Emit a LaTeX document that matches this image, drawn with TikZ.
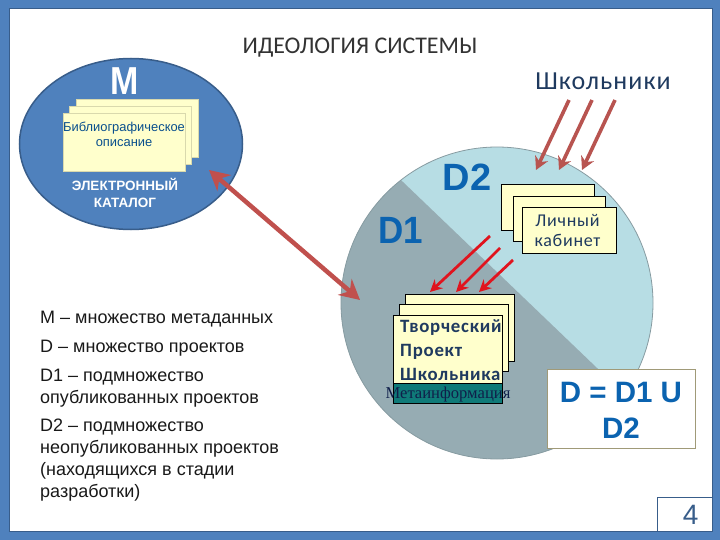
\documentclass[tikz,border=0pt]{standalone}
\usepackage{fontspec}
\setmainfont{Liberation Sans}
\newfontfamily\calib{Carlito}
\newfontfamily\calibsp{Carlito}[LetterSpace=4]
\newfontfamily\tms{Liberation Serif}
\usetikzlibrary{arrows.meta,shapes.geometric}
\definecolor{frameblue}{HTML}{4F81BD}
\definecolor{framedark}{HTML}{385D8A}
\definecolor{paleyellow}{HTML}{FFFFCC}
\definecolor{dlight}{HTML}{B7DDE4}
\definecolor{ddark}{HTML}{96ACB3}
\definecolor{headblue}{HTML}{0B63B0}
\definecolor{arrowred}{HTML}{C0504D}
\definecolor{arrowbrown}{HTML}{B85450}
\definecolor{purered}{HTML}{E0141E}
\definecolor{teal1}{HTML}{0F7A78}
\definecolor{navy1}{HTML}{0F1F4A}
\definecolor{textdark}{HTML}{1F3A5F}
\definecolor{olive1}{HTML}{A09A78}
\tikzset{
  pagecard/.style={draw=black,line width=0.8pt,fill=paleyellow,anchor=north west,inner sep=0pt},
  softcard/.style={draw=paleyellow!85!black,line width=0.5pt,fill=paleyellow,anchor=north west,inner sep=0pt},
  bodytext/.style={anchor=north west,inner sep=0pt,align=left,font=\fontsize{18}{22}\selectfont,text=black!90},
  bigarrow/.style={arrowred,line width=4.5pt,{Stealth[length=20pt,width=21pt]}-{Stealth[length=20pt,width=21pt]}},
  brownarrow/.style={arrowbrown,line width=3.6pt,-{Stealth[length=13pt,width=14pt]}},
  redarrow/.style={purered,line width=2.8pt,-{Stealth[length=12pt,width=12pt]}},
  dlabel/.style={font=\fontsize{38}{38}\selectfont\bfseries,text=headblue,inner sep=0pt}
}
\begin{document}
\begin{tikzpicture}[x=1pt,y=-1pt]
\useasboundingbox (0,0) rectangle (720,540);
\fill[white] (0,0) rectangle (720,540);
% frame
\fill[frameblue,even odd rule] (0,0) rectangle (720,540) (9,9) rectangle (712,531);
\draw[framedark,line width=1pt] (9,9) rectangle (712,531);
% catalogue ellipse
\node[ellipse,draw=framedark,line width=1.5pt,fill=frameblue,minimum width=223pt,minimum height=171pt,inner sep=0pt] (cat) at (131,144) {};
\node[font=\fontsize{39}{39}\selectfont\bfseries,text=white,inner sep=0pt,xscale=0.87] (mlabel) at (124.5,81) {M};
\node[softcard,minimum width=122pt,minimum height=58pt] (bib3) at (76,99) {};
\node[softcard,minimum width=122pt,minimum height=58pt] (bib2) at (69,106) {};
\node[softcard,minimum width=122pt,minimum height=58pt] (bib1) at (63,113) {};
\node[anchor=north,inner sep=0pt,align=center,text=headblue!80!black,font=\fontsize{12.9}{15}\selectfont] (bibtext) at (124,122) {Библиографическое\\описание};
\node[inner sep=0pt,align=center,text=white,font=\fontsize{13.5}{17}\selectfont\bfseries] (ectext) at (125,192.5) {ЭЛЕКТРОННЫЙ\\КАТАЛОГ};
% title
\node[font=\calib\fontsize{23.9}{24}\selectfont,text=black!80,inner sep=0pt] (title) at (360,48) {ИДЕОЛОГИЯ СИСТЕМЫ};
\node[font=\calibsp\fontsize{26}{26}\selectfont,text=textdark,inner sep=0pt] (pupils) at (603,81) {Школьники};
% disk
\coordinate (dc) at (497,303);
\fill[dlight] (dc) circle (156);
\begin{scope}
\clip (dc) circle (156);
\fill[ddark] (330,112) -- (403,182) -- (597,368) -- (720,486) -- (300,486) -- cycle;
\end{scope}
\draw[ddark!90!black,line width=0.8pt] (dc) circle (156);
\node[dlabel] (d2) at (467,177) {D2};
\node[dlabel,xscale=0.92] (d1) at (401,230) {D1};
% personal cabinet
\node[pagecard,minimum width=93pt,minimum height=46pt] (lk3) at (501,184) {};
\node[pagecard,minimum width=92pt,minimum height=45pt] (lk2) at (513,196) {};
\node[pagecard,minimum width=94pt,minimum height=46pt] (lk1) at (522,207) {};
\node[align=center,inner sep=0pt,text=textdark,font=\calibsp\fontsize{18}{20}\selectfont] (lktext) at (567.5,230.5) {Личный\\кабинет};
% project
\node[pagecard,minimum width=109pt,minimum height=67pt] (pr3) at (405,294) {};
\node[pagecard,minimum width=109pt,minimum height=67pt] (pr2) at (399,304) {};
\node[pagecard,minimum width=109pt,minimum height=68pt] (pr1) at (393,315) {};
\node[anchor=north west,inner sep=0pt,align=left,text=textdark,font=\calibsp\bfseries\fontsize{18.8}{24}\selectfont] (prtext) at (400,319) {Творческий\\Проект\\Школьника};
\node[draw=black,line width=0.8pt,fill=teal1,anchor=north west,minimum width=109pt,minimum height=20pt,inner sep=0pt] (meta) at (393,383) {};
\node[font=\tms\fontsize{16.6}{16.6}\selectfont,text=navy1,inner sep=0pt] (metatext) at (448,395) {Метаинформация};
% arrows
\coordinate (a1s) at (569,100); \coordinate (a1e) at (536,170);
\coordinate (a2s) at (592,100); \coordinate (a2e) at (559,170);
\coordinate (a3s) at (615,100); \coordinate (a3e) at (582,170);
\draw[brownarrow] (a1s) -- (a1e);
\draw[brownarrow] (a2s) -- (a2e);
\draw[brownarrow] (a3s) -- (a3e);
\coordinate (r1s) at (490,236); \coordinate (r1e) at (430,292);
\coordinate (r2s) at (500,248); \coordinate (r2e) at (456,292);
\coordinate (r3s) at (513,260); \coordinate (r3e) at (479,292);
\draw[redarrow] (r1s) -- (r1e);
\draw[redarrow] (r2s) -- (r2e);
\draw[redarrow] (r3s) -- (r3e);
\coordinate (bs) at (209,170); \coordinate (be) at (360,300);
\draw[bigarrow] (bs) -- (be);
% left text
\node[bodytext] (t1) at (40,311) {M -- множество метаданных};
\node[bodytext] (t2) at (40,340) {D -- множество проектов};
\node[bodytext] (t3) at (40,368.5) {D1 -- подмножество\\опубликованных проектов};
\node[bodytext] (t4) at (40,418.5) {D2 -- подмножество\\неопубликованных проектов\\(находящихся в стадии\\разработки)};
% formula
\node[draw=olive1,line width=0.8pt,fill=white,anchor=north west,minimum width=148pt,minimum height=79pt,inner sep=0pt] (fbox) at (547,369) {};
\node[align=center,inner sep=0pt,text=headblue,font=\fontsize{29.5}{36}\selectfont\bfseries] (ftext) at (621,410) {D = D1 U\\D2};
% page number
\node[draw=framedark,line width=1.3pt,fill=white,anchor=north west,minimum width=55pt,minimum height=34pt,inner sep=0pt,text=framedark,font=\fontsize{28}{28}\selectfont] (pnum) at (657,497) {\hspace*{11pt}4};
\end{tikzpicture}
\end{document}
